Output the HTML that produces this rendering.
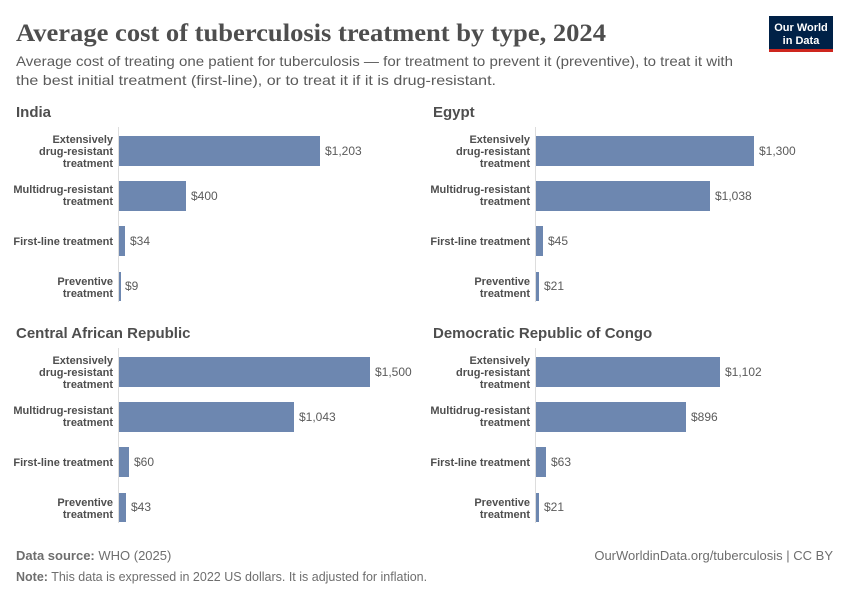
<!DOCTYPE html>
<html><head><meta charset="utf-8"><style>
body{margin:0;background:#fff;}
svg text{font-family:"Liberation Sans",sans-serif;}
</style></head><body>
<svg width="850" height="600" viewBox="0 0 850 600" xmlns="http://www.w3.org/2000/svg">
<text x="16" y="41" font-size="25" font-weight="bold" fill="#4e4e4e" textLength="590" lengthAdjust="spacingAndGlyphs" style="font-family:'Liberation Serif',serif">Average cost of tuberculosis treatment by type, 2024</text>
<text x="16" y="66" font-size="14" fill="#5b5b5b" textLength="717" lengthAdjust="spacingAndGlyphs">Average cost of treating one patient for tuberculosis — for treatment to prevent it (preventive), to treat it with</text>
<text x="16" y="85" font-size="14" fill="#5b5b5b" textLength="480" lengthAdjust="spacingAndGlyphs">the best initial treatment (first-line), or to treat it if it is drug-resistant.</text>
<rect x="769" y="16" width="64" height="36" fill="#002147"/>
<rect x="769" y="49" width="64" height="3" fill="#ce261e"/>
<text x="801" y="31" font-size="11" font-weight="bold" fill="#fff" text-anchor="middle">Our World</text>
<text x="801" y="44" font-size="11" font-weight="bold" fill="#fff" text-anchor="middle">in Data</text>

<text x="16" y="117" font-size="15" font-weight="bold" fill="#4e4e4e">India</text>
<line x1="118.5" y1="127" x2="118.5" y2="302" stroke="#ddd"/>
<rect x="119" y="136" width="201" height="30" fill="#6d87b0"/>
<rect x="119" y="181" width="67" height="30" fill="#6d87b0"/>
<rect x="119" y="226" width="6" height="30" fill="#6d87b0"/>
<rect x="119" y="272" width="2" height="29" fill="#6d87b0"/>
<g font-size="12" fill="#5b5b5b"><text x="325" y="155">$1,203</text><text x="191" y="200">$400</text><text x="130" y="245">$34</text><text x="125" y="290">$9</text></g>

<g font-size="11" font-weight="bold" fill="#4e4e4e" text-anchor="end">
<text x="113" y="143">Extensively</text><text x="113" y="155">drug-resistant</text><text x="113" y="167">treatment</text>
<text x="113" y="193">Multidrug-resistant</text><text x="113" y="205">treatment</text>
<text x="113" y="245">First-line treatment</text>
<text x="113" y="285">Preventive</text><text x="113" y="297">treatment</text>
<text x="530" y="143">Extensively</text><text x="530" y="155">drug-resistant</text><text x="530" y="167">treatment</text>
<text x="530" y="193">Multidrug-resistant</text><text x="530" y="205">treatment</text>
<text x="530" y="245">First-line treatment</text>
<text x="530" y="285">Preventive</text><text x="530" y="297">treatment</text>
<text x="113" y="364">Extensively</text><text x="113" y="376">drug-resistant</text><text x="113" y="388">treatment</text>
<text x="113" y="414">Multidrug-resistant</text><text x="113" y="426">treatment</text>
<text x="113" y="466">First-line treatment</text>
<text x="113" y="506">Preventive</text><text x="113" y="518">treatment</text>
<text x="530" y="364">Extensively</text><text x="530" y="376">drug-resistant</text><text x="530" y="388">treatment</text>
<text x="530" y="414">Multidrug-resistant</text><text x="530" y="426">treatment</text>
<text x="530" y="466">First-line treatment</text>
<text x="530" y="506">Preventive</text><text x="530" y="518">treatment</text>
</g>

<text x="433" y="117" font-size="15" font-weight="bold" fill="#4e4e4e">Egypt</text>
<line x1="535.5" y1="127" x2="535.5" y2="302" stroke="#ddd"/>
<rect x="536" y="136" width="218" height="30" fill="#6d87b0"/>
<rect x="536" y="181" width="174" height="30" fill="#6d87b0"/>
<rect x="536" y="226" width="7" height="30" fill="#6d87b0"/>
<rect x="536" y="272" width="3" height="29" fill="#6d87b0"/>
<g font-size="12" fill="#5b5b5b"><text x="759" y="155">$1,300</text><text x="715" y="200">$1,038</text><text x="548" y="245">$45</text><text x="544" y="290">$21</text></g>

<text x="16" y="338" font-size="15" font-weight="bold" fill="#4e4e4e">Central African Republic</text>
<line x1="118.5" y1="348" x2="118.5" y2="523" stroke="#ddd"/>
<rect x="119" y="357" width="251" height="30" fill="#6d87b0"/>
<rect x="119" y="402" width="175" height="30" fill="#6d87b0"/>
<rect x="119" y="447" width="10" height="30" fill="#6d87b0"/>
<rect x="119" y="493" width="7" height="29" fill="#6d87b0"/>
<g font-size="12" fill="#5b5b5b"><text x="375" y="376">$1,500</text><text x="299" y="421">$1,043</text><text x="134" y="466">$60</text><text x="131" y="511">$43</text></g>

<text x="433" y="338" font-size="15" font-weight="bold" fill="#4e4e4e">Democratic Republic of Congo</text>
<line x1="535.5" y1="348" x2="535.5" y2="523" stroke="#ddd"/>
<rect x="536" y="357" width="184" height="30" fill="#6d87b0"/>
<rect x="536" y="402" width="150" height="30" fill="#6d87b0"/>
<rect x="536" y="447" width="10" height="30" fill="#6d87b0"/>
<rect x="536" y="493" width="3" height="29" fill="#6d87b0"/>
<g font-size="12" fill="#5b5b5b"><text x="725" y="376">$1,102</text><text x="691" y="421">$896</text><text x="551" y="466">$63</text><text x="544" y="511">$21</text></g>

<text x="16" y="560" font-size="13" fill="#6e6e6e"><tspan font-weight="bold">Data source:</tspan> WHO (2025)</text>
<text x="833" y="560" font-size="13" fill="#6e6e6e" text-anchor="end">OurWorldinData.org/tuberculosis | CC BY</text>
<text x="16" y="581" font-size="12.5" fill="#6e6e6e"><tspan font-weight="bold">Note:</tspan> This data is expressed in 2022 US dollars. It is adjusted for inflation.</text>
</svg>
</body></html>
